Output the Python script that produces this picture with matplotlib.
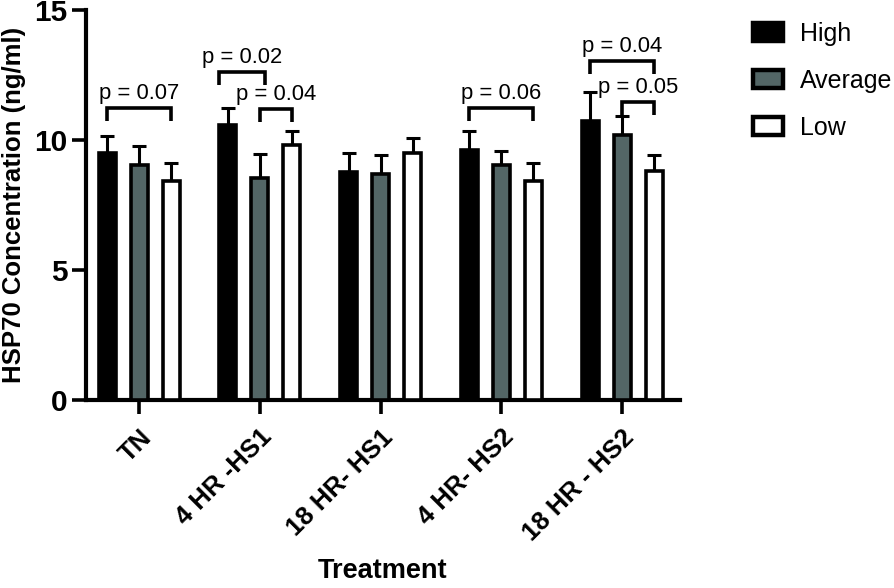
import matplotlib
matplotlib.use("Agg")
import matplotlib.pyplot as plt
import numpy as np

plt.rcParams['font.family'] = ['Liberation Sans', 'DejaVu Sans']

categories = ["TN", "4 HR -HS1", "18 HR- HS1", "4 HR- HS2", "18 HR - HS2"]
series_names = ["High", "Average", "Low"]
high = [9.5, 10.58, 8.77, 9.62, 10.73]
high_err = [0.65, 0.67, 0.73, 0.73, 1.12]
average = [9.04, 8.54, 8.69, 9.04, 10.19]
average_err = [0.73, 0.92, 0.73, 0.54, 0.73]
low = [8.42, 9.8, 9.5, 8.42, 8.81]
low_err = [0.68, 0.55, 0.58, 0.68, 0.61]

# brackets: (group index, start bar, end bar, height, label)
brackets = [
    (0, 0, 2, 11.23, "p = 0.07"),
    (1, 0, 1, 12.6, "p = 0.02"),
    (1, 1, 2, 11.2, "p = 0.04"),
    (3, 0, 2, 11.23, "p = 0.06"),
    (4, 0, 2, 13.04, "p = 0.04"),
    (4, 1, 2, 11.46, "p = 0.05"),
]

fills = ["#000000", "#536666", "#ffffff"]
fig = plt.figure(figsize=(8.95, 5.88), dpi=100)
ax = fig.add_axes([0.096, 0.3197, 0.664, 0.6633])

x = np.arange(len(categories))
off = 0.265
w = 0.14
lw = 2.6
for i, (vals, errs) in enumerate([(high, high_err), (average, average_err), (low, low_err)]):
    xs = x + (i - 1) * off
    ax.bar(xs, vals, width=w, color=fills[i], edgecolor='black', linewidth=lw,
           label=series_names[i], zorder=3)
    ax.errorbar(xs, vals, yerr=[np.zeros(len(vals)), errs], fmt='none',
                ecolor='black', elinewidth=2.2, capsize=5, capthick=2.2, zorder=2)

for g, a, b, h, lab in brackets:
    x0 = g + (a - 1) * off
    x1 = g + (b - 1) * off
    if a == 0 and b == 1:
        x0 -= 0.07
        x1 += 0.04
    ax.plot([x0, x0, x1, x1], [h - 0.5, h, h, h - 0.5], color='black', lw=2.6,
            solid_capstyle='butt', solid_joinstyle='miter', zorder=4)
    ax.text((x0 + x1) / 2, h + 0.15, lab, ha='center', va='bottom', fontsize=15.8, zorder=5)

ax.set_xlim(-0.44, 4.48)
ax.set_ylim(0, 15)
ax.set_yticks([0, 5, 10, 15])
ax.set_xticks(x)
ax.set_xticklabels(categories, rotation=45, ha='right', rotation_mode='anchor',
                   fontsize=18.5, fontweight='bold')
for t in ax.get_yticklabels():
    t.set_fontsize(21.5)
    t.set_fontweight('bold')
ax.tick_params(axis='both', width=2.6, length=10, direction='out')
ax.tick_params(axis='y', pad=3)
ax.tick_params(axis='x', pad=8)
for s in ['top', 'right']:
    ax.spines[s].set_visible(False)
for s in ['left', 'bottom']:
    ax.spines[s].set_linewidth(3)
ax.set_ylabel("HSP70 Concentration (ng/ml)", fontsize=18.5, fontweight='bold', labelpad=6)
ax.set_xlabel("Treatment", fontsize=19.5, fontweight='bold', labelpad=9)

leg = ax.legend(loc='upper left', bbox_to_anchor=(0.841, 0.963), bbox_transform=fig.transFigure,
                frameon=False, fontsize=18, handlelength=1.2, handleheight=0.76,
                labelspacing=0.92, handletextpad=0.68, borderpad=0, borderaxespad=0)
for p in leg.get_patches():
    p.set_linewidth(3.2)

fig.savefig("out.png", dpi=100)
